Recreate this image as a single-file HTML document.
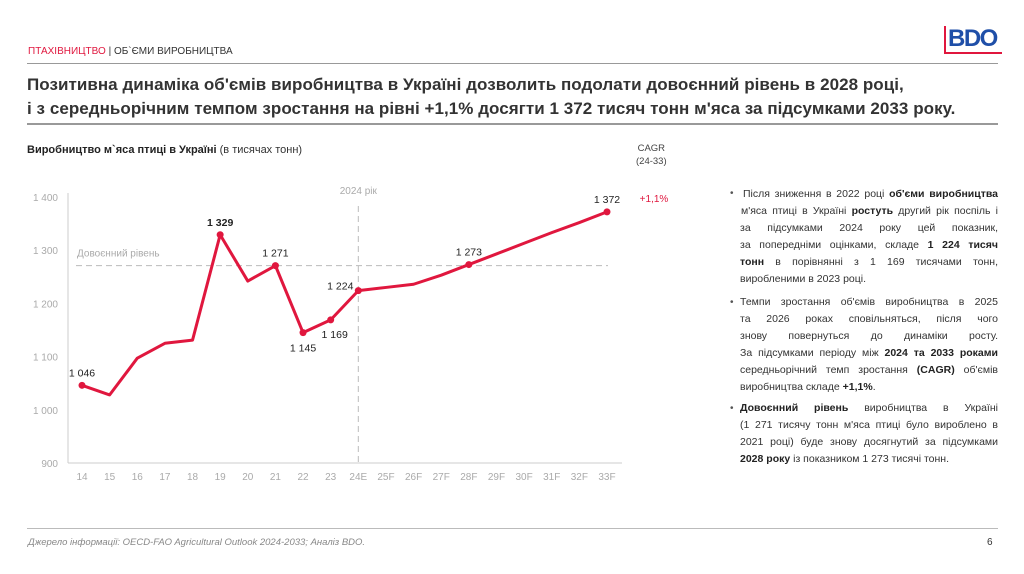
<!DOCTYPE html>
<html><head><meta charset="utf-8">
<style>
body{margin:0;width:1024px;height:574px;background:#fff;position:relative;overflow:hidden;font-family:"Liberation Sans","DejaVu Sans",sans-serif;color:#222}
.a{position:absolute;white-space:nowrap}
.rt{position:absolute;left:740px;width:258px;font-size:10.5px;color:#333;line-height:17px}
.rt div{text-align:justify;text-align-last:justify;height:17px}
.rt div.l{text-align-last:left}
.bul{position:absolute;left:730px;font-size:10px;color:#555}
b{font-weight:bold;color:#222}
</style></head><body>
<div class="a" style="left:28px;top:46px;font-size:10px;color:#333"><span style="color:#e0173e">ПТАХІВНИЦТВО</span> | ОБ`ЄМИ ВИРОБНИЦТВА</div>
<div class="a" style="left:944px;top:26px;width:54px;height:26px;color:#1f4fa8;font-weight:bold;font-size:24px;line-height:26px;letter-spacing:-1.5px;border-left:2px solid #e0173e;border-bottom:2px solid #e0173e;padding-left:2px">BDO</div>
<div class="a" style="left:27px;top:63px;width:971px;height:1px;background:#999"></div>
<div class="a" style="left:27px;top:73px;font-size:17px;line-height:24px;font-weight:bold;color:#333;letter-spacing:0.05px">Позитивна динаміка об'ємів виробництва в Україні дозволить подолати довоєнний рівень в 2028 році,<br>і з середньорічним темпом зростання на рівні +1,1% досягти 1 372 тисяч тонн м'яса за підсумками 2033 року.</div>
<div class="a" style="left:27px;top:123px;width:971px;height:2px;background:#999"></div>
<div class="a" style="left:27px;top:144px;font-size:11px;color:#333"><b>Виробництво м`яса птиці в Україні</b> (в тисячах тонн)</div>
<div class="a" style="left:636px;top:142px;font-size:9.5px;color:#444;text-align:center;line-height:13px">CAGR<br>(24-33)</div>

<svg class="a" style="left:0;top:0" width="1024" height="574" id="chart"></svg>

<div class="bul" style="top:188px">•</div>
<div class="bul" style="top:297px">•</div>
<div class="bul" style="top:403px">•</div>
<div class="rt" style="top:186px">
<div style="padding-left:3px">Після зниження в 2022 році <b>об'єми виробництва</b></div>
<div style="padding-left:1px">м'яса птиці в Україні <b>ростуть</b> другий рік поспіль і</div>
<div>за підсумками 2024 року цей показник,</div>
<div>за попередніми оцінками, складе <b>1 224 тисяч</b></div>
<div><b>тонн</b> в порівнянні з 1 169 тисячами тонн,</div>
<div class="l">виробленими в 2023 році.</div>
</div>
<div class="rt" style="top:294px">
<div>Темпи зростання об'ємів виробництва в 2025</div>
<div>та 2026 роках сповільняться, після чого</div>
<div>знову повернуться до динаміки росту.</div>
<div>За підсумками періоду між <b>2024 та 2033 роками</b></div>
<div>середньорічний темп зростання <b>(CAGR)</b> об'ємів</div>
<div class="l">виробництва складе <b>+1,1%</b>.</div>
</div>
<div class="rt" style="top:400px">
<div><b>Довоєнний рівень</b> виробництва в Україні</div>
<div>(1 271 тисячу тонн м'яса птиці було вироблено в</div>
<div>2021 році) буде знову досягнутий за підсумками</div>
<div class="l"><b>2028 року</b> із показником 1 273 тисячі тонн.</div>
</div>

<div class="a" style="left:27px;top:528px;width:971px;height:1px;background:#bbb"></div>
<div class="a" style="left:28px;top:537px;font-size:9.5px;font-style:italic;color:#888">Джерело інформації: OECD-FAO Agricultural Outlook 2024-2033; Аналіз BDO.</div>
<div class="a" style="left:987px;top:537px;font-size:10px;color:#333">6</div>

<script>
const categories=["14","15","16","17","18","19","20","21","22","23","24E","25F","26F","27F","28F","29F","30F","31F","32F","33F"];
const values=[1046,1028,1097,1125,1131,1329,1242,1271,1145,1169,1224,1230,1236,1253,1273,1293,1313,1333,1352,1372];
const yTicks=[900,1000,1100,1200,1300,1400];
const prewar=1271;
const labeled={0:"1 046",5:"1 329",7:"1 271",8:"1 145",9:"1 169",10:"1 224",14:"1 273",19:"1 372"};
const NS="http://www.w3.org/2000/svg";
const svg=document.getElementById('chart');
const x=i=>82+i*(607-82)/(categories.length-1);
const y=v=>463-(v-900)*266/500;
function mk(t,a,txt){const e=document.createElementNS(NS,t);for(const k in a)e.setAttribute(k,a[k]);if(txt!=null)e.textContent=txt;svg.appendChild(e);return e;}
let e;
e=mk('line',{x1:68,y1:193,x2:68,y2:463,stroke:'#ccc'});


e=mk('line',{x1:68,y1:463,x2:622,y2:463,stroke:'#ccc'});


yTicks.forEach(t=>{e=mk('text',{x:58,y:y(t)+4,'text-anchor':'end','font-size':10,fill:'#aaa'},String(t).replace(/(\d)(\d{3})$/,'$1 $2'));

});
categories.forEach((c,i)=>{e=mk('text',{x:x(i),y:480,'text-anchor':'middle','font-size':10,fill:'#aaa'},c);

});
e=mk('line',{x1:76,y1:y(prewar),x2:608,y2:y(prewar),stroke:'#bbb','stroke-dasharray':'6,4'});


e=mk('text',{x:77,y:y(prewar)-9,'font-size':10,fill:'#aaa'},'Довоєнний рівень');


e=mk('line',{x1:x(10),y1:206,x2:x(10),y2:463,stroke:'#bbb','stroke-dasharray':'6,4'});


e=mk('text',{x:x(10),y:194,'text-anchor':'middle','font-size':10,fill:'#aaa'},'2024 рік');


e=mk('polyline',{points:values.map((v,i)=>x(i)+','+y(v)).join(' '),fill:'none',stroke:'#e0173e','stroke-width':3,'stroke-linejoin':'round'});


for(const k in labeled){const i=+k,v=values[i];
e=mk('circle',{cx:x(i),cy:y(v),r:3.5,fill:'#e0173e'});


let lx=x(i),ly=y(v)-9;
if(i==8){ly=y(v)+19;}
if(i==9){lx=x(i)+4;ly=y(v)+18;}
if(i==10){lx=x(i)-18;ly=y(v)-1;}
e=mk('text',{x:lx,y:ly,'text-anchor':'middle','font-size':10.5,fill:'#222','font-weight':i==5?'bold':'normal'},labeled[k]);

}
e=mk('text',{x:654,y:202,'text-anchor':'middle','font-size':10,fill:'#e0173e'},'+1,1%');


</script>
</body></html>
